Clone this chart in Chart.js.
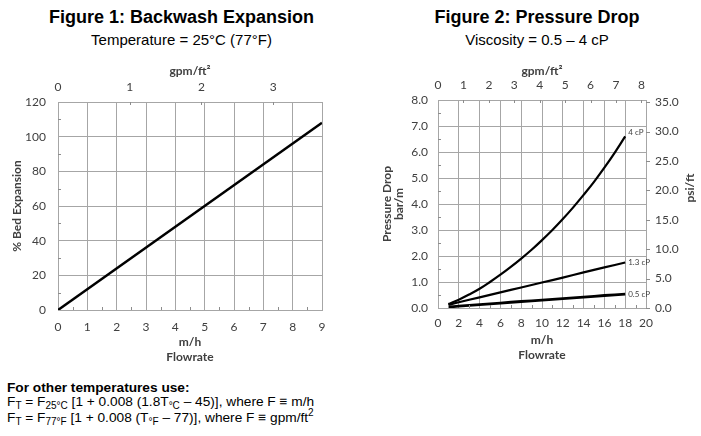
<!DOCTYPE html>
<html>
<head>
<meta charset="utf-8">
<script src="https://cdn.jsdelivr.net/npm/chart.js@4.4.1/dist/chart.umd.min.js"></script>
<style>
html,body{margin:0;padding:0;background:#fff;width:701px;height:436px;overflow:hidden;font-family:"Liberation Sans",Arial,sans-serif;color:#000}
.ttl{position:absolute;text-align:center;font-weight:bold;font-size:18px;line-height:20px;white-space:nowrap}
.sub{position:absolute;text-align:center;font-size:15px;line-height:17px;white-space:nowrap}
.cv{position:absolute}
.note{position:absolute;left:7px;font-size:13.7px;line-height:16px;white-space:nowrap}
.note sub{font-size:10px;line-height:0;vertical-align:-3px}
.note sup{font-size:10px;line-height:0;vertical-align:6px}
.ytl{position:absolute;font-family:Lato,sans-serif;font-weight:bold;font-size:12px;color:#404040;transform:rotate(-90deg);transform-origin:center;white-space:nowrap;text-align:center;width:60px;line-height:14px}
</style>
</head>
<body>
<div class="ttl" style="left:0;width:363px;top:7px">Figure 1: Backwash Expansion</div>
<div class="sub" style="left:0;width:363px;top:31px">Temperature = 25°C (77°F)</div>
<div class="ttl" style="left:360px;width:354px;top:7px">Figure 2: Pressure Drop</div>
<div class="sub" style="left:360px;width:354px;top:31px">Viscosity = 0.5 – 4 cP</div>

<canvas id="c1" class="cv" style="left:0;top:60px" width="350" height="310"></canvas>
<canvas id="c2" class="cv" style="left:360px;top:60px" width="341" height="310"></canvas>
<div class="ytl" style="left:660px;top:181px">psi/ft</div>

<div class="note" style="top:380px;font-weight:bold">For other temperatures use:</div>
<div class="note" style="top:394px">F<sub>T</sub> = F<sub>25°C</sub> [1 + 0.008 (1.8T<sub>°C</sub> – 45)], where F ≡ m/h</div>
<div class="note" style="top:410px">F<sub>T</sub> = F<sub>77°F</sub> [1 + 0.008 (T<sub>°F</sub> – 77)], where F ≡ gpm/ft<sup>2</sup></div>

<script>
// ── Figure 1 data ──
var bwFlow=[0,9];
var bwExpansion=[0,108];
var bwXTicks=[0,1,2,3,4,5,6,7,8,9];
var bwYTicks=[0,20,40,60,80,100,120];
var bwTopTicks=[0,1,2,3];

// ── Figure 2 data ──
var pdFlow=[1,2,3,4,5,6,7,8,9,10,11,12,13,14,15,16,17,18];
var pd4cP =[0.15,0.32,0.52,0.74,1.0,1.28,1.58,1.9,2.24,2.61,3.0,3.42,3.87,4.35,4.85,5.4,5.98,6.6];
var pd13Flow=[1,2,4,6,8,10,12,14,16,18];
var pd13cP=[0.12,0.22,0.41,0.6,0.79,0.98,1.17,1.37,1.56,1.75];
var pd05Flow=[1,2,4,6,8,10,12,14,16,18];
var pd05cP=[0.04,0.07,0.13,0.19,0.25,0.3,0.36,0.42,0.48,0.53];
var pdLabels=['4 cP','1.3 cP','0.5 cP'];
var pdXTicks=[0,2,4,6,8,10,12,14,16,18,20];
var pdYTicks=[0,1,2,3,4,5,6,7,8];
var pdPsiTicks=[0,5,10,15,20,25,30,35];
var pdTopTicks=[0,1,2,3,4,5,6,7,8];

var M_H_PER_GPM=2.445;      // 1 gpm/ft2 = 2.445 m/h
var PSIFT_PER_BARM=4.421;   // 1 bar/m = 4.421 psi/ft

var GRID='#a6a6a6', TXT='#404040', FONT='Lato';

function pts(xs,ys){return xs.map(function(x,i){return{x:x,y:ys[i]};});}
function fixTicks(arr){return function(s){s.ticks=arr.map(function(v){return{value:v};});};}

// small tick marks drawn on the axes (inside / outside)
var tickMarks={
  id:'tickMarks',
  afterDraw:function(chart,args,opts){
    var ctx=chart.ctx,a=chart.chartArea;
    ctx.save();ctx.strokeStyle='#8c8c8c';ctx.lineWidth=1;ctx.beginPath();
    (opts.marks||[]).forEach(function(m){
      var s=chart.scales[m.scale];
      m.values.forEach(function(v){
        var p=Math.round(s.getPixelForValue(v))+0.5;
        if(m.side==='bottom'){ctx.moveTo(p,a.bottom);ctx.lineTo(p,a.bottom-m.len);}
        if(m.side==='top'){ctx.moveTo(p,a.top);ctx.lineTo(p,a.top+m.len);}
        if(m.side==='left'){ctx.moveTo(a.left,p);ctx.lineTo(a.left+m.len,p);}
        if(m.side==='right'){ctx.moveTo(a.right,p);ctx.lineTo(a.right+m.len,p);}
      });
    });
    ctx.stroke();ctx.restore();
  }
};

// curve name labels at the end of each line
var endLabels={
  id:'endLabels',
  afterDatasetsDraw:function(chart,args,opts){
    if(!opts.show)return;
    var ctx=chart.ctx;
    ctx.save();ctx.font='8px '+FONT;ctx.fillStyle='#404040';ctx.textBaseline='middle';ctx.textAlign='left';
    chart.data.datasets.forEach(function(ds,i){
      var meta=chart.getDatasetMeta(i),el=meta.data[meta.data.length-1];
      ctx.fillText(ds.label,el.x+3,el.y+(opts.dy[i]||0));
    });
    ctx.restore();
  }
};

function tickFont(){return{family:FONT,size:12};}
function titleFont(){return{family:FONT,size:12,weight:'bold'};}

// ══ Figure 1 ══
new Chart(document.getElementById('c1'),{
  type:'line',
  data:{datasets:[{label:'Expansion',data:pts(bwFlow,bwExpansion),borderColor:'#000',borderWidth:2.5,pointRadius:0,tension:0}]},
  options:{
    responsive:false,animation:false,
    layout:{padding:{right:28,top:0,bottom:0,left:0}},
    plugins:{legend:{display:false},tooltip:{enabled:false},
      tickMarks:{marks:[
        {scale:'x',side:'bottom',len:3,values:[0.5,1.5,2.5,3.5,4.5,5.5,6.5,7.5,8.5]},
        {scale:'y',side:'left',len:3,values:[10,30,50,70,90,110]},
        {scale:'x2',side:'top',len:3,values:[1,2,3]}
      ]}},
    scales:{
      x:{type:'linear',position:'bottom',min:0,max:9,afterBuildTicks:fixTicks(bwXTicks),
        ticks:{color:TXT,font:tickFont(),padding:10,maxRotation:0},
        grid:{color:GRID,drawTicks:false},border:{color:GRID},
        title:{display:true,text:['m/h','Flowrate'],color:TXT,font:titleFont(),padding:{bottom:6}},
        afterFit:function(s){s.height=60;}},
      x2:{type:'linear',position:'top',min:0,max:9/M_H_PER_GPM,afterBuildTicks:fixTicks(bwTopTicks),
        ticks:{color:TXT,font:tickFont(),padding:8,maxRotation:0},
        grid:{drawOnChartArea:false,drawTicks:false},border:{color:GRID},
        title:{display:true,text:'gpm/ft²',color:TXT,font:titleFont(),padding:{top:4}},
        afterFit:function(s){s.height=42;}},
      y:{type:'linear',min:0,max:120,afterBuildTicks:fixTicks(bwYTicks),
        ticks:{color:TXT,font:tickFont(),padding:12},
        grid:{color:GRID,drawTicks:false},border:{color:GRID},
        title:{display:true,text:'% Bed Expansion',color:TXT,font:titleFont(),padding:{top:10}},
        afterFit:function(s){s.width=58;}}
    }
  },
  plugins:[tickMarks]
});

// ══ Figure 2 ══
new Chart(document.getElementById('c2'),{
  type:'line',
  data:{datasets:[
    {label:pdLabels[0],data:pts(pdFlow,pd4cP),borderColor:'#000',borderWidth:2.2,pointRadius:0,tension:0.4},
    {label:pdLabels[1],data:pts(pd13Flow,pd13cP),borderColor:'#000',borderWidth:2.2,pointRadius:0,tension:0.4},
    {label:pdLabels[2],data:pts(pd05Flow,pd05cP),borderColor:'#000',borderWidth:2.8,pointRadius:0,tension:0.4}
  ]},
  options:{
    responsive:false,animation:false,
    layout:{padding:{right:0,top:0,bottom:0,left:0}},
    plugins:{legend:{display:false},tooltip:{enabled:false},
      endLabels:{show:true,dy:[-4,0,0]},
      tickMarks:{marks:[
        {scale:'x',side:'bottom',len:3,values:[1,3,5,7,9,11,13,15,17,19]},
        {scale:'y',side:'left',len:3,values:[0.5,1.5,2.5,3.5,4.5,5.5,6.5,7.5]},
        {scale:'x2',side:'top',len:3,values:[1,2,3,4,5,6,7,8]},
        {scale:'y2',side:'right',len:4,values:pdPsiTicks}
      ]}},
    scales:{
      x:{type:'linear',position:'bottom',min:0,max:20,afterBuildTicks:fixTicks(pdXTicks),
        ticks:{color:TXT,font:tickFont(),padding:8,maxRotation:0},
        grid:{color:GRID,drawTicks:false},border:{color:GRID},
        title:{display:true,text:['m/h','Flowrate'],color:TXT,font:titleFont(),padding:{bottom:8}},
        afterFit:function(s){s.height=62;}},
      x2:{type:'linear',position:'top',min:0,max:20/M_H_PER_GPM,afterBuildTicks:fixTicks(pdTopTicks),
        ticks:{color:TXT,font:tickFont(),padding:8,maxRotation:0},
        grid:{drawOnChartArea:false,drawTicks:false},border:{color:GRID},
        title:{display:true,text:'gpm/ft²',color:TXT,font:titleFont(),padding:{top:4}},
        afterFit:function(s){s.height=40;}},
      y:{type:'linear',position:'left',min:0,max:8,afterBuildTicks:fixTicks(pdYTicks),
        ticks:{color:TXT,font:tickFont(),padding:10,callback:function(v){return v.toFixed(1);}},
        grid:{color:GRID,drawTicks:false},border:{color:GRID},
        title:{display:true,text:['Pressure Drop','bar/m'],color:TXT,font:{family:FONT,size:12,weight:'bold',lineHeight:1},padding:{top:21}},
        afterFit:function(s){s.width=78;}},
      y2:{type:'linear',position:'right',min:0,max:8*PSIFT_PER_BARM,afterBuildTicks:fixTicks(pdPsiTicks),
        ticks:{color:TXT,font:tickFont(),padding:9,callback:function(v){return v.toFixed(1);}},
        grid:{drawOnChartArea:false,drawTicks:false},border:{color:GRID},
        afterFit:function(s){s.width=55;}}
    }
  },
  plugins:[tickMarks,endLabels]
});
</script>
</body>
</html>
